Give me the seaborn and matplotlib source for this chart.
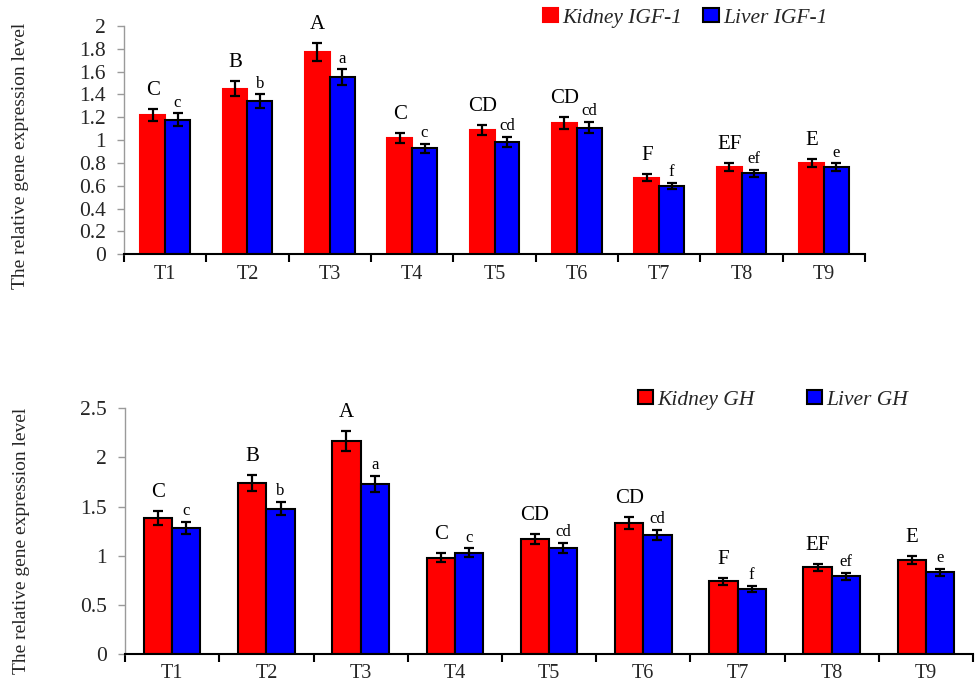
import numpy as np
import pandas as pd
import matplotlib
matplotlib.use("Agg")
import matplotlib.pyplot as plt
from matplotlib.patches import Patch
import seaborn as sns

# ---- data -------------------------------------------------------------
treatments = ["T1", "T2", "T3", "T4", "T5", "T6", "T7", "T8", "T9"]

kidney_igf1 = [1.22, 1.45, 1.77, 1.02, 1.09, 1.15, 0.67, 0.76, 0.80]
kidney_igf1_err = [0.055, 0.065, 0.08, 0.045, 0.045, 0.05, 0.03, 0.035, 0.035]
liver_igf1 = [1.18, 1.34, 1.55, 0.93, 0.98, 1.11, 0.60, 0.71, 0.76]
liver_igf1_err = [0.055, 0.06, 0.07, 0.04, 0.045, 0.05, 0.025, 0.03, 0.035]
kidney_igf1_letters = ["C", "B", "A", "C", "CD", "CD", "F", "EF", "E"]
liver_igf1_letters = ["c", "b", "a", "c", "cd", "cd", "f", "ef", "e"]

kidney_gh = [1.38, 1.74, 2.17, 0.98, 1.17, 1.33, 0.74, 0.88, 0.96]
kidney_gh_err = [0.07, 0.08, 0.10, 0.045, 0.055, 0.06, 0.035, 0.04, 0.04]
liver_gh = [1.28, 1.48, 1.73, 1.03, 1.08, 1.21, 0.66, 0.79, 0.83]
liver_gh_err = [0.06, 0.07, 0.08, 0.045, 0.05, 0.05, 0.03, 0.035, 0.035]
kidney_gh_letters = ["C", "B", "A", "C", "CD", "CD", "F", "EF", "E"]
liver_gh_letters = ["c", "b", "a", "c", "cd", "cd", "f", "ef", "e"]

igf1_ticks = [0, 0.2, 0.4, 0.6, 0.8, 1, 1.2, 1.4, 1.6, 1.8, 2]
igf1_ticklabels = ["0", "0.2", "0.4", "0.6", "0.8", "1", "1.2", "1.4", "1.6", "1.8", "2"]
gh_ticks = [0, 0.5, 1, 1.5, 2, 2.5]
gh_ticklabels = ["0", "0.5", "1", "1.5", "2", "2.5"]

ylabel = "The relative gene expression level"

# ---- style ------------------------------------------------------------
sns.set_theme(style="white")
plt.rcParams["font.family"] = ["Liberation Serif", "DejaVu Serif"]

RED = "#ff0000"
BLUE = "#0000ff"


def draw_panel(ax, kid, kid_err, liv, liv_err, kid_lab, liv_lab, kid_name, liv_name,
               ticks, ticklabels, ymax, red_edge, leg_anchor, colspace):
    df = pd.DataFrame({
        "treatment": treatments * 2,
        "value": list(kid) + list(liv),
        "tissue": [kid_name] * len(treatments) + [liv_name] * len(treatments),
    })
    sns.barplot(data=df, x="treatment", y="value", hue="tissue",
                palette=[RED, BLUE], width=0.6, gap=0, errorbar=None,
                saturation=1, legend=False, ax=ax)

    kid_bars, liv_bars = ax.containers[0], ax.containers[1]
    for b in kid_bars:
        b.set_edgecolor(red_edge)
        b.set_linewidth(1.5)
    for b in liv_bars:
        b.set_edgecolor("black")
        b.set_linewidth(1.5)

    for bars, vals, errs, labs, size, off in (
        (kid_bars, kid, kid_err, kid_lab, 15, 6.5),
        (liv_bars, liv, liv_err, liv_lab, 12, 2),
    ):
        xs = [b.get_x() + b.get_width() / 2 for b in bars]
        ax.errorbar(xs, vals, yerr=errs, fmt="none", ecolor="black",
                    elinewidth=1.6, capsize=3.5, capthick=1.6, zorder=5)
        for x, v, e, t in zip(xs, vals, errs, labs):
            ax.annotate(t, (x, v + e), xytext=(0, off), textcoords="offset points",
                        ha="center", va="bottom", fontsize=size, color="black")

    ax.set_xlim(-0.5, len(treatments) - 0.5)
    ax.set_ylim(0, ymax)
    ax.set_yticks(ticks)
    ax.set_yticklabels(ticklabels, fontsize=15.5)
    ax.set_xticks(range(len(treatments)))
    ax.set_xticklabels(treatments, fontsize=14.5)
    ax.set_xticks(np.arange(-0.5, len(treatments)), minor=True)
    ax.tick_params(axis="x", which="major", length=0, pad=7.5)
    ax.tick_params(axis="x", which="minor", length=6, width=1.5,
                   direction="out", color="black", bottom=True)
    ax.tick_params(axis="y", which="major", length=5, width=1,
                   direction="out", color="#9a9a9a", left=True, pad=8)
    ax.set_xlabel("")
    ax.set_ylabel(ylabel, fontsize=14)

    for s in ("top", "right"):
        ax.spines[s].set_visible(False)
    ax.spines["left"].set_color("#9a9a9a")
    ax.spines["left"].set_linewidth(1)
    ax.spines["bottom"].set_color("black")
    ax.spines["bottom"].set_linewidth(1.5)

    handles = [Patch(facecolor=RED, edgecolor=red_edge, linewidth=1.5),
               Patch(facecolor=BLUE, edgecolor="black", linewidth=1.5)]
    ax.legend(handles, [kid_name, liv_name], loc="center", bbox_to_anchor=leg_anchor,
              ncol=2, frameon=False, handlelength=0.7, handleheight=0.6,
              handletextpad=0.2, columnspacing=colspace,
              prop={"family": "Liberation Serif", "style": "italic", "size": 15.5})


fig = plt.figure(figsize=(9.77, 6.85), dpi=100)
ax_top = fig.add_axes([0.1269, 0.629, 0.7585, 0.333])
ax_bot = fig.add_axes([0.128, 0.0453, 0.868, 0.3587])

draw_panel(ax_top, kidney_igf1, kidney_igf1_err, liver_igf1, liver_igf1_err,
           kidney_igf1_letters, liver_igf1_letters, "Kidney IGF-1", "Liver IGF-1",
           igf1_ticks, igf1_ticklabels, 2.0, RED, (0.757, 1.035), 1.0)
draw_panel(ax_bot, kidney_gh, kidney_gh_err, liver_gh, liver_gh_err,
           kidney_gh_letters, liver_gh_letters, "Kidney GH", "Liver GH",
           gh_ticks, gh_ticklabels, 2.5, "black", (0.764, 1.034), 2.4)

ax_top.yaxis.set_label_coords(-0.128, 0.43)
ax_bot.yaxis.set_label_coords(-0.112, 0.46)

fig.savefig("out.png", dpi=100, facecolor="white")
